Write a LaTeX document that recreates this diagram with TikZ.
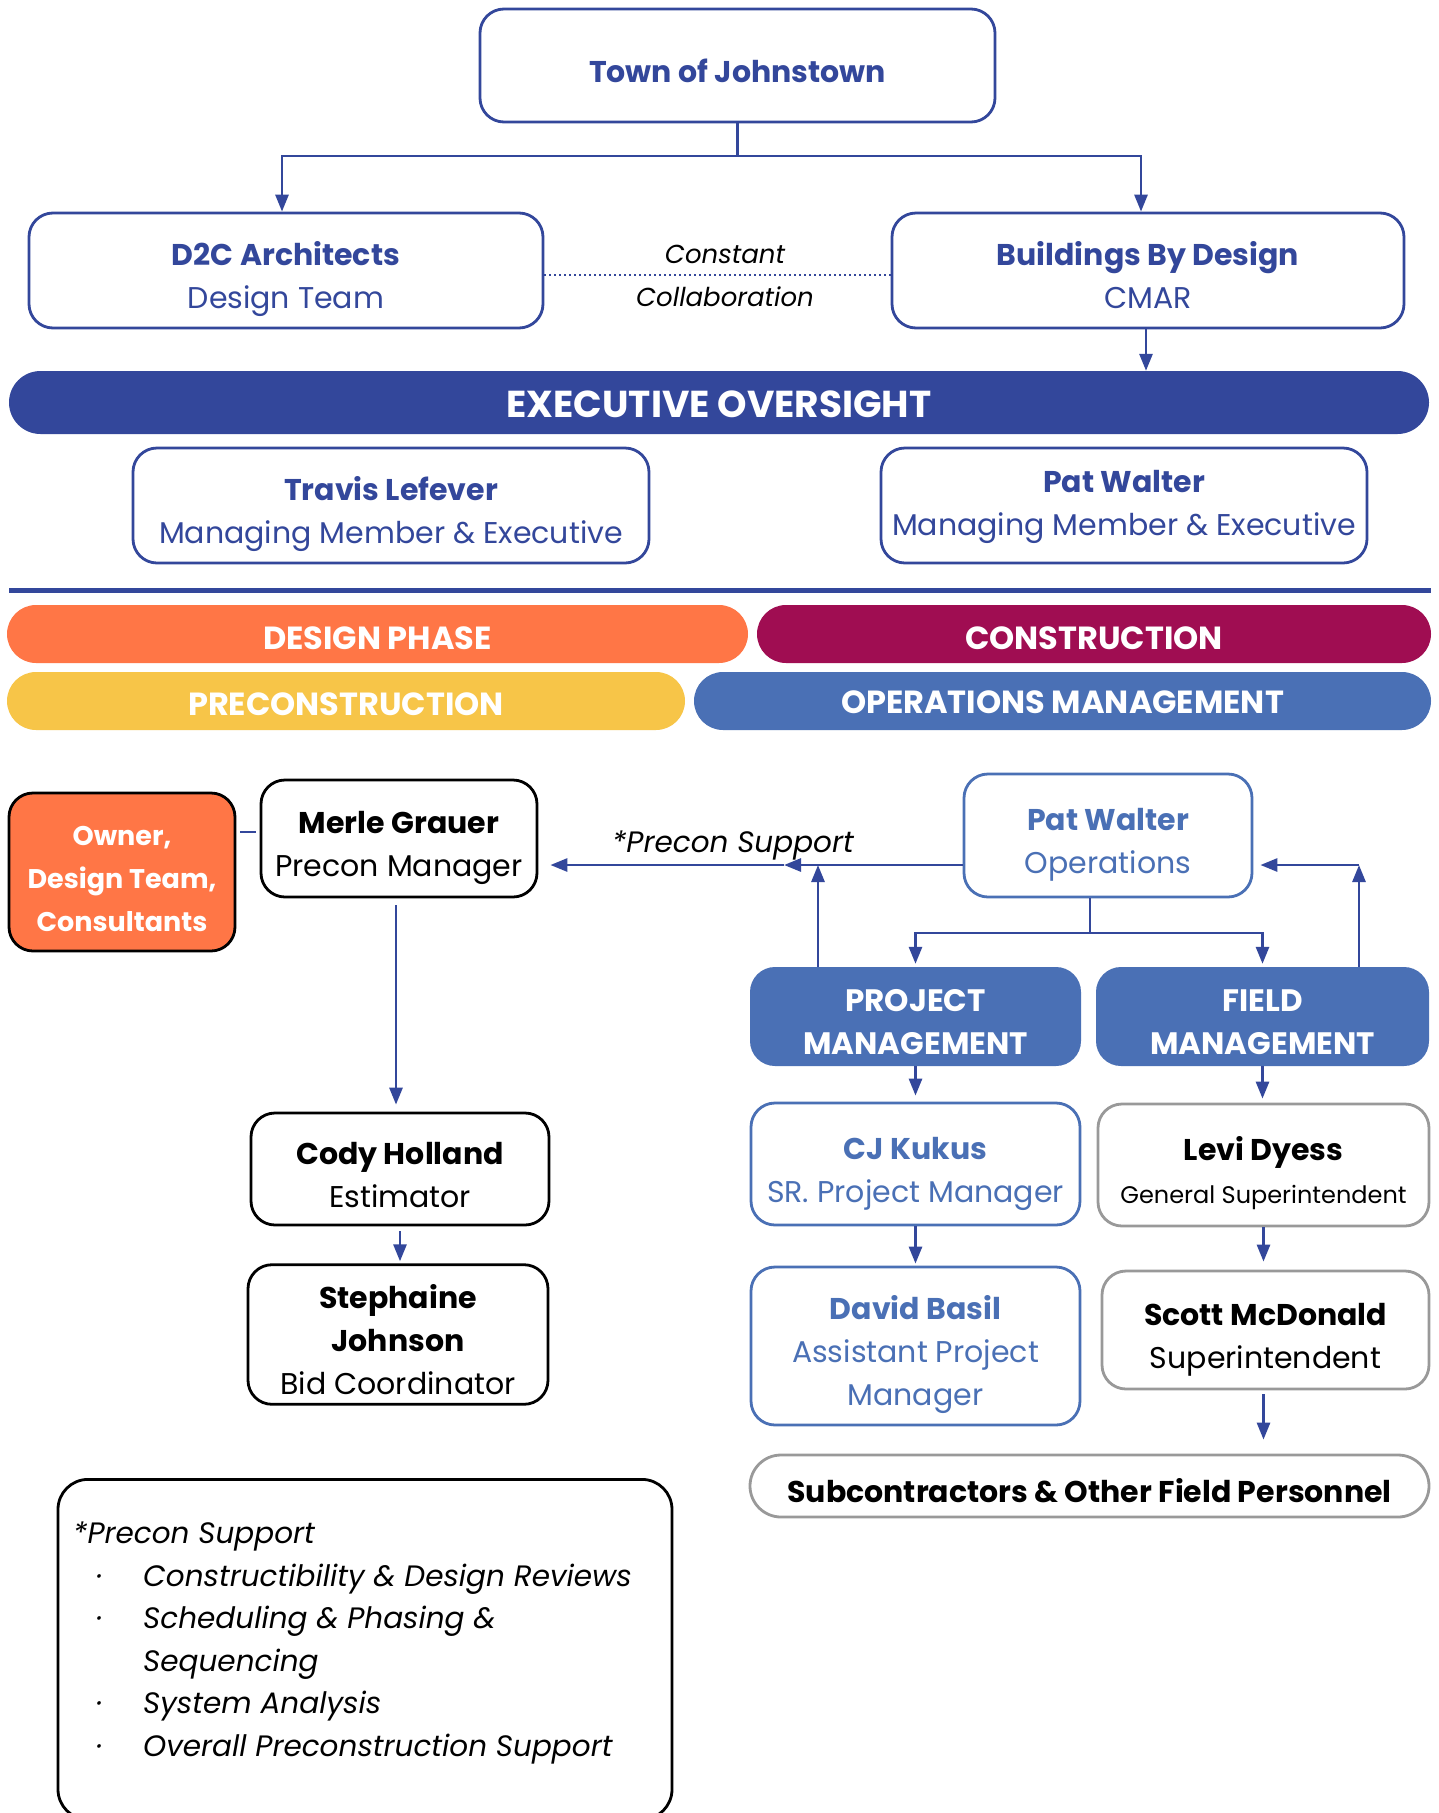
\documentclass[tikz,border=0pt]{standalone}
\usepackage{fontspec}
\setmainfont{Poppins}
\usetikzlibrary{arrows.meta,calc}
\definecolor{navy}{HTML}{33479B}
\definecolor{mblue}{HTML}{4A70B5}
\definecolor{orng}{HTML}{FF7646}
\definecolor{crim}{HTML}{A00D52}
\definecolor{yell}{HTML}{F7C548}
\definecolor{gry}{HTML}{999999}
\newcommand\fst{\rule[-10pt]{0pt}{53.6pt}}
\newcommand\lst{\rule[-10pt]{0pt}{43pt}}
\newcommand\lstb{\rule[-10pt]{0pt}{42.5pt}}
\begin{document}
\begin{tikzpicture}[x=1pt,y=-1pt,
  box/.style={draw, rounded corners=24pt, line width=2.8pt, inner sep=0pt, align=center, font=\fontsize{30}{43}\selectfont},
  navybox/.style={box, draw=navy, text=navy},
  bluebox/.style={box, draw=mblue, text=mblue},
  blackbox/.style={box, draw=black, text=black},
  graybox/.style={box, draw=gry, text=black},
  pill/.style={rounded corners=29pt, inner sep=0pt, text=white, align=center, font=\fontsize{32}{43}\selectfont\bfseries},
  conn/.style={draw=navy, line width=2.8pt},
  arr/.style={conn, -{Triangle[length=17pt,width=13pt]}}
]
\useasboundingbox (0,0) rectangle (1439,1813);
\fill[white] (0,0) rectangle (1439,1813);

% top
\node[navybox, minimum width=515pt, minimum height=113pt] (town) at (737.5,65.5) {\fst\textbf{Town of Johnstown}};
\node[navybox, minimum width=514pt, minimum height=115pt] (d2c) at (286,270.5) {\fst\textbf{D2C Architects}\\\lst Design Team};
\node[navybox, minimum width=512pt, minimum height=115pt] (bbd) at (1148,270.5) {\fst\textbf{Buildings By Design}\\\lst CMAR};
\node[font=\fontsize{26}{43}\selectfont\itshape, align=center, inner sep=0pt] (collab) at (725,268) {\fst Constant\\\lst Collaboration};
\draw[conn, line width=2pt, dash pattern=on 2pt off 3pt] ([yshift=-4.5pt]d2c.east) -- ([yshift=-4.5pt]bbd.west);
\coordinate (split) at (737.5,156);
\draw[conn] (town.south) -- (split);
\draw[arr] (split) -| ([xshift=-4pt]d2c.north);
\draw[arr] (split) -| ([xshift=-7pt]bbd.north);

\node[pill, fill=navy, minimum width=1420pt, minimum height=63pt, rounded corners=31.5pt, font=\fontsize{37.5}{44}\selectfont\bfseries] (exec) at (719,402.5) {\rule[-10pt]{0pt}{50.8pt}EXECUTIVE OVERSIGHT};
\draw[arr] ([xshift=-2pt]bbd.south) -- ([xshift=-2pt]bbd.south |- exec.north);

\node[navybox, minimum width=516pt, minimum height=115pt] (travis) at (391,505.5) {\fst\textbf{Travis Lefever}\\\lst Managing Member \& Executive};
\node[navybox, minimum width=486pt, minimum height=115pt] (patexec) at (1124,505.5) {\rule[-10pt]{0pt}{37.6pt}\textbf{Pat Walter}\\\lst Managing Member \& Executive};

\draw[navy, line width=5pt] (9,590) -- (1431,590);

\node[pill, fill=orng, minimum width=741pt, minimum height=58pt] (design) at (377.5,634) {\rule[-10pt]{0pt}{51.6pt}DESIGN PHASE};
\node[pill, fill=crim, minimum width=674pt, minimum height=58pt] (constr) at (1094,634) {\rule[-10pt]{0pt}{51.6pt}CONSTRUCTION};
\node[pill, fill=yell, minimum width=678pt, minimum height=58pt] (precon) at (346,701) {\rule[-10pt]{0pt}{49.4pt}PRECONSTRUCTION};
\node[pill, fill=mblue, minimum width=737pt, minimum height=58pt] (ops) at (1062.5,701) {\rule[-10pt]{0pt}{44.4pt}OPERATIONS MANAGEMENT};

% left column
\node[box, draw=black, fill=orng, text=white, minimum width=226pt, minimum height=158pt, font=\fontsize{27}{43}\selectfont\bfseries] (owner) at (122,872) {\fst Owner,\\\lst Design Team,\\\lst Consultants};
\node[blackbox, minimum width=276pt, minimum height=117pt] (merle) at (399,838.5) {\fst\textbf{Merle Grauer}\\\lst Precon Manager};
\draw[conn] ($(owner.east)+(4,-40)$) -- ($(merle.west |- owner.east)+(-4,-40)$);
\node[blackbox, minimum width=298pt, minimum height=112pt] (cody) at (400,1169) {\fst\textbf{Cody Holland}\\\lst Estimator};
\node[blackbox, minimum width=300pt, minimum height=137pt] (steph) at (398,1334.5) {\fst\textbf{Stephaine}\\\lst\textbf{Johnson}\\\lst Bid Coordinator};
\draw[arr, shorten <=7pt, shorten >=7pt] ([xshift=-3pt]merle.south) -- ([xshift=-3pt]merle.south |- cody.north);
\draw[arr, shorten <=5pt, shorten >=2pt] (cody.south) -- (cody.south |- steph.north);

% right column
\node[bluebox, minimum width=288pt, minimum height=123pt] (patops) at (1108,835.5) {\fst\textbf{Pat Walter}\\\lst Operations};
\coordinate (ps) at (784,865);
\coordinate (pmup) at (818,865);
\coordinate (fmup) at (1359,865);
\draw[arr] (patops.west |- ps) -- (ps);
\draw[arr, shorten >=12pt] (ps) -- (merle.east |- ps);
\node[font=\fontsize{29.5}{36}\selectfont\itshape, inner sep=0pt] (pslabel) at (733,845) {*Precon Support};

\node[pill, fill=mblue, rounded corners=25pt, minimum width=331pt, minimum height=99pt, font=\fontsize{31}{43}\selectfont\bfseries] (pm) at (915.5,1016.5) {\fst PROJECT\\\lst MANAGEMENT};
\node[pill, fill=mblue, rounded corners=25pt, minimum width=333pt, minimum height=99pt, font=\fontsize{31}{43}\selectfont\bfseries] (fm) at (1262.5,1016.5) {\fst FIELD\\\lst MANAGEMENT};
\draw[arr] (pm.north -| pmup) -- (pmup);
\draw[arr] (fm.north -| fmup) -- (fmup);
\draw[arr, shorten >=7pt] (fmup) -- (patops.east |- fmup);
\coordinate (split2) at (1090,933);
\draw[conn] (patops.south -| split2) -- (split2);
\draw[arr, shorten >=3pt] (split2) -| (pm.north);
\draw[arr, shorten >=3pt] (split2) -| (fm.north);

\node[bluebox, minimum width=329pt, minimum height=122pt] (cj) at (915.5,1164) {\fst\textbf{CJ Kukus}\\\lst SR. Project Manager};
\node[graybox, minimum width=331pt, minimum height=122pt] (levi) at (1263.5,1165) {\fst\textbf{Levi Dyess}\\\lst{\fontsize{24}{43}\selectfont General Superintendent}};
\node[bluebox, minimum width=329pt, minimum height=158pt] (david) at (915.5,1346) {\fst\textbf{David Basil}\\\lst Assistant Project\\\lst Manager};
\node[graybox, minimum width=327pt, minimum height=118pt] (scott) at (1265.5,1330) {\fst\textbf{Scott McDonald}\\\lst Superintendent};
\node[graybox, rounded corners=31pt, minimum width=679pt, minimum height=62pt] (sub) at (1089.5,1486) {\fst\textbf{Subcontractors \& Other Field Personnel}};
\draw[arr, shorten >=6pt] (pm.south) -- (cj.north);
\draw[arr, shorten >=4pt] (fm.south) -- (fm.south |- levi.north);
\draw[arr, shorten >=2pt] (cj.south) -- (david.north);
\draw[arr, shorten >=8pt] (levi.south) -- (levi.south |- scott.north);
\draw[arr, shorten <=4pt, shorten >=14pt] (scott.south -| levi.south) -- (levi.south |- sub.north);

% precon support list
\node[blackbox, rounded corners=30pt, minimum width=614pt, minimum height=340pt, anchor=north] (list) at (365,1478) {};
\node[anchor=north west, align=left, inner sep=0pt, font=\fontsize{29.5}{42.5}\selectfont\itshape] (listtext) at (73,1511) {\lstb *Precon Support\\
\lstb\makebox[70pt][l]{\hspace{24pt}·}Constructibility \& Design Reviews\\
\lstb\makebox[70pt][l]{\hspace{24pt}·}Scheduling \& Phasing \&\\
\lstb\hspace*{70pt}Sequencing\\
\lstb\makebox[70pt][l]{\hspace{24pt}·}System Analysis\\
\lstb\makebox[70pt][l]{\hspace{24pt}·}Overall Preconstruction Support};
\end{tikzpicture}
\end{document}
